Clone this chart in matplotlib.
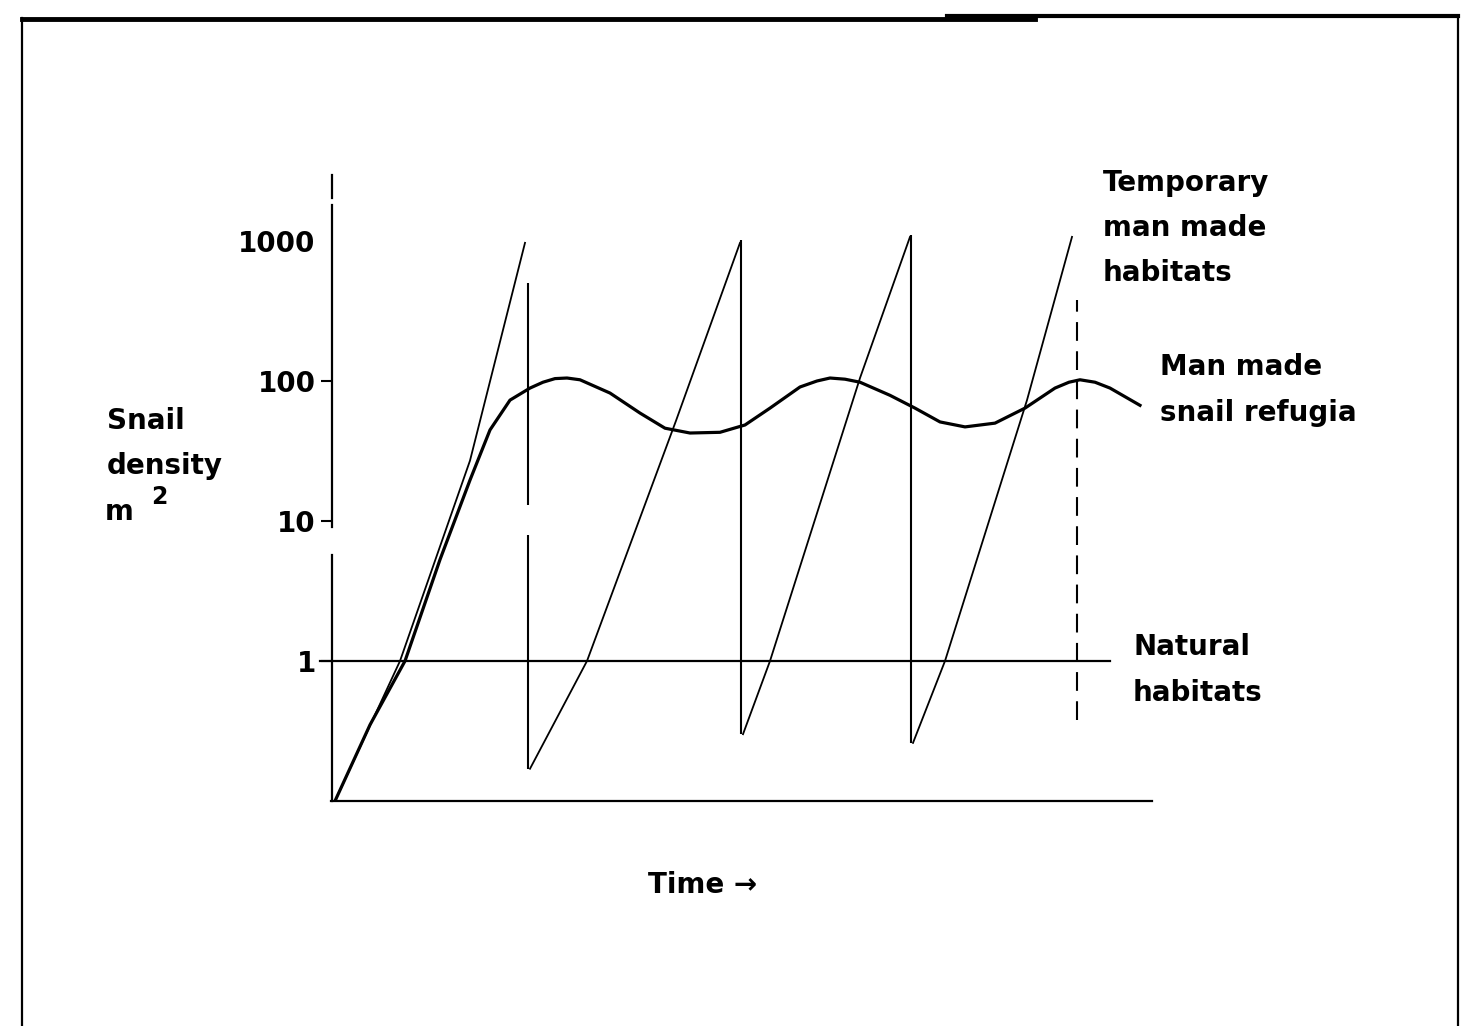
import numpy as np
import matplotlib.pyplot as plt

plt.rcParams['font.family'] = ['DejaVu Sans']
plt.rcParams['font.weight'] = 'bold'

# time in arbitrary units, snail density per m2 (log scale)
rise_t = [
    [0.2, 3.45, 6.95, 9.7],
    [9.95, 12.8, 17.25, 20.45],
    [20.6, 21.95, 26.45, 28.95],
    [29.1, 30.7, 34.8, 37.05],
]
rise_v = [
    [0.1, 1, 27, 970],
    [0.17, 1, 52, 970],
    [0.3, 1, 105, 1070],
    [0.26, 1, 73, 1070],
]
drop_t = [9.85, 20.5, 29.0]
drop_top = [500, 1016, 1100]
drop_bottom = [0.17, 0.3, 0.26]
last_drop_t = 37.3
last_drop_top = 380
last_drop_bottom = 0.38

refugia_t = [0.2, 1.95, 3.7, 5.45, 6.95, 7.95, 8.95, 9.95, 10.6, 11.2, 11.8,
             12.45, 13.95, 15.45, 16.7, 17.95, 19.45, 20.7, 21.95, 23.45,
             24.3, 24.95, 25.7, 26.45, 27.95, 29.2, 30.45, 31.7, 33.2, 34.7,
             36.2, 36.9, 37.45, 38.2, 38.95, 40.45]
refugia_v = [0.1, 0.35, 1, 5.3, 19.6, 44.7, 73, 89, 98, 104, 105,
             102, 82, 59, 46, 42.5, 43, 48.5, 64, 90.6,
             100, 105, 103, 98, 79, 64, 51, 47, 50, 64,
             89, 98, 102, 98, 89, 67]

natural_t = [-0.55, 38.95]
natural_v = [1, 1]

yticks = [1, 10, 100, 1000]
ytick_labels = ['1', '10', '100', '1000']

fig = plt.figure(figsize=(14.63, 10.26), dpi=100)
ax = fig.add_axes([331 / 1463, 1 - 801 / 1026, 821 / 1463, 626 / 1026])
ax.set_yscale('log')
ax.set_xlim(0, 41.05)
ax.set_ylim(0.1, 2960)

for s in ['top', 'right', 'left']:
    ax.spines[s].set_visible(False)
ax.spines['bottom'].set_linewidth(1.6)
ax.set_xticks([])
ax.minorticks_off()
ax.set_yticks(yticks)
ax.set_yticklabels(ytick_labels, fontsize=20, fontweight='bold')
ax.tick_params(axis='y', length=7, width=1.5, pad=4, left=True)
ax.yaxis.get_major_ticks()[3].tick1line.set_visible(False)

# broken y axis
ax.plot([0.05, 0.05], [0.1, 5.7], color='black', lw=1.6, clip_on=False)
ax.plot([0.05, 0.05], [9.1, 1800], color='black', lw=1.6, clip_on=False)
ax.plot([0.05, 0.05], [2030, 2960], color='black', lw=1.6, clip_on=False)

# temporary man made habitats
for t, v in zip(rise_t, rise_v):
    ax.plot(t, v, color='black', lw=1.3)
ax.vlines(drop_t[0], 13, drop_top[0], color='black', lw=1.5)
ax.vlines(drop_t[0], drop_bottom[0], 8, color='black', lw=1.5)
ax.vlines(drop_t[1:], drop_bottom[1:], drop_top[1:], color='black', lw=1.5)
ax.plot([last_drop_t, last_drop_t], [last_drop_bottom, last_drop_top],
        color='black', lw=1.5, linestyle=(0, (9, 5)))

# man made snail refugia
ax.plot(refugia_t, refugia_v, color='black', lw=2.3)

# natural habitats
ax.plot(natural_t, natural_v, color='black', lw=1.6, clip_on=False)

# labels
kw = dict(fontsize=20, fontweight='bold', va='center', ha='left')
fig.text(1103 / 1463, 1 - 183 / 1026, 'Temporary', **kw)
fig.text(1103 / 1463, 1 - 228 / 1026, 'man made', **kw)
fig.text(1103 / 1463, 1 - 273 / 1026, 'habitats', **kw)
fig.text(1160 / 1463, 1 - 367 / 1026, 'Man made', **kw)
fig.text(1160 / 1463, 1 - 413 / 1026, 'snail refugia', **kw)
fig.text(1133 / 1463, 1 - 647 / 1026, 'Natural', **kw)
fig.text(1133 / 1463, 1 - 693 / 1026, 'habitats', **kw)
fig.text(107 / 1463, 1 - 421 / 1026, 'Snail', **kw)
fig.text(107 / 1463, 1 - 466 / 1026, 'density', **kw)
fig.text(105 / 1463, 1 - 512 / 1026, 'm', **kw)
fig.text(151 / 1463, 1 - 497 / 1026, '2', fontsize=17, fontweight='bold',
         va='center', ha='left')
fig.text(648 / 1463, 1 - 885 / 1026, 'Time \u2192', **kw)

# frame
fig.add_artist(plt.Line2D([22 / 1463, 22 / 1463], [0, 1 - 18 / 1026],
                          color='black', lw=1.6))
fig.add_artist(plt.Line2D([1458 / 1463, 1458 / 1463], [0, 1 - 16 / 1026],
                          color='black', lw=1.6))
fig.add_artist(plt.Line2D([22 / 1463, 1035 / 1463], [1 - 19 / 1026, 1 - 19 / 1026],
                          color='black', lw=3.5))
fig.add_artist(plt.Line2D([947 / 1463, 1458 / 1463], [1 - 15.5 / 1026, 1 - 15.5 / 1026],
                          color='black', lw=3))

fig.savefig('out.png', dpi=100)
